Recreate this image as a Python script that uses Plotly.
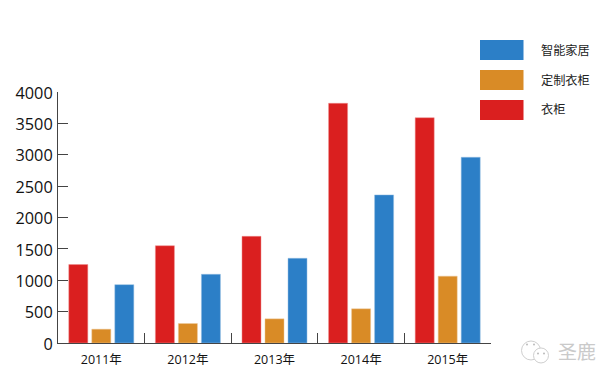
import plotly.graph_objects as go

years = ["2011年", "2012年", "2013年", "2014年", "2015年"]
wardrobe = [1250, 1550, 1700, 3820, 3590]
custom = [220, 310, 385, 545, 1065]
smart = [930, 1095, 1350, 2360, 2960]
y_ticks = [0, 500, 1000, 1500, 2000, 2500, 3000, 3500, 4000]
legend_names = ["智能家居", "定制衣柜", "衣柜"]

RED, ORANGE, BLUE = "#DA1F1F", "#D98B26", "#2C7FC7"
CJK = "Noto Sans CJK SC"
# the page adds an 8px body margin, so the figure is drawn 8px smaller
W, H = 607, 373
PX_L, PX_B, PW, PH = 58, 343.5, 433, 251.5


def px(x):
    return (x - PX_L) / PW


def py(y):
    return (PX_B - y) / PH


fig = go.Figure()
for name, vals, col, edge in [("衣柜", wardrobe, RED, "#EE8F8F"),
                              ("定制衣柜", custom, ORANGE, "#ECC592"),
                              ("智能家居", smart, BLUE, "#95BFE3")]:
    fig.add_bar(x=years, y=vals, name=name, marker=dict(color=col, line=dict(color=edge, width=0.5)))

shapes, annos = [], []
for i, (nm, col) in enumerate(zip(legend_names, [BLUE, ORANGE, RED])):
    y0 = 40 + i * 30
    shapes.append(dict(type="rect", xref="paper", yref="paper",
                       x0=px(480), x1=px(523.5), y0=py(y0 + 20), y1=py(y0),
                       fillcolor=col, line_width=0))
    annos.append(dict(text=nm, xref="paper", yref="paper", x=px(539), y=py(y0 + 9.5),
                      xanchor="left", yanchor="middle", showarrow=False,
                      font=dict(family=CJK, size=12.2, color="#222222")))

# watermark
annos.append(dict(text="圣鹿", xref="paper", yref="paper", x=px(556), y=py(351),
                  xanchor="left", yanchor="middle", showarrow=False,
                  font=dict(family=CJK, size=19, color="#CACACA")))
for cx, cy, r in [(531, 351, 9.5), (541, 356, 7.5)]:
    shapes.append(dict(type="circle", xref="paper", yref="paper",
                       x0=px(cx - r), x1=px(cx + r), y0=py(cy + r), y1=py(cy - r),
                       fillcolor="white", line=dict(color="#CFCFCF", width=1)))
for cx, cy in [(527, 345), (534, 345), (538, 354), (544, 354)]:
    shapes.append(dict(type="circle", xref="paper", yref="paper",
                       x0=px(cx - 1), x1=px(cx + 1), y0=py(cy + 1), y1=py(cy - 1),
                       fillcolor="#BBBBBB", line_width=0))

fig.update_layout(
    width=W, height=H, autosize=False,
    margin=dict(l=50, r=124, t=84, b=37.5),
    paper_bgcolor="white", plot_bgcolor="white",
    barmode="group", bargap=0.203, bargroupgap=0.174,
    showlegend=False, shapes=shapes, annotations=annos,
    xaxis=dict(automargin=False, showline=True, linecolor="#444444", linewidth=1, ticks="inside", ticklen=10,
               tickcolor="#444444", tickson="boundaries", showgrid=False, ticklabelstandoff=5,
               tickfont=dict(family="Open Sans, " + CJK, size=12.5, color="#111111")),
    yaxis=dict(automargin=False, range=[0, 4000], tickvals=y_ticks, showline=True, linecolor="#444444", linewidth=1,
               ticks="inside", ticklen=10, tickcolor="#444444", showgrid=False, zeroline=False,
               ticklabelshift=1, ticklabelstandoff=1,
               tickfont=dict(family="Open Sans", size=16.3, color="#111111")),
)
fig.write_html("out.html")
